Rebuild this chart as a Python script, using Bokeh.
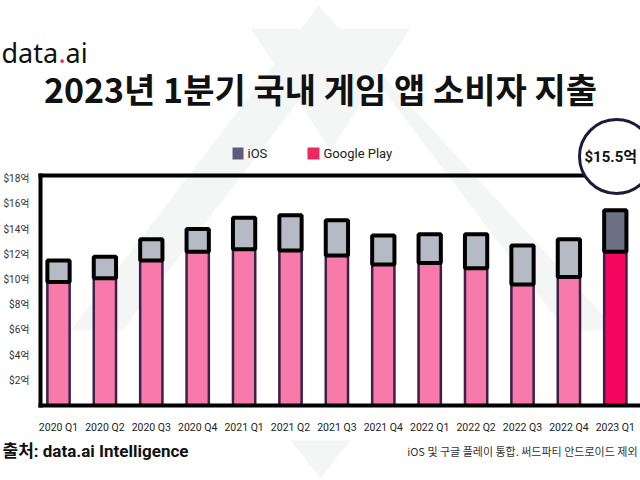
from bokeh.plotting import figure
from bokeh.models import (Label, BoxAnnotation, PolyAnnotation, FixedTicker,
                          Range1d, ColumnDataSource, LinearAxis)
from bokeh.embed import file_html
from bokeh.resources import INLINE

# ---- data (US$ 억) ----
quarters = ["2020 Q1", "2020 Q2", "2020 Q3", "2020 Q4", "2021 Q1", "2021 Q2",
            "2021 Q3", "2021 Q4", "2022 Q1", "2022 Q2", "2022 Q3", "2022 Q4", "2023 Q1"]
google_play = [9.8, 10.1, 11.5, 12.2, 12.4, 12.3, 11.9, 11.2, 11.3, 10.9, 9.6, 10.2, 12.2]
ios = [1.7, 1.7, 1.7, 1.8, 2.5, 2.8, 2.8, 2.3, 2.3, 2.7, 3.1, 3.0, 3.3]
y_ticks = [2, 4, 6, 8, 10, 12, 14, 16, 18]
y_tick_labels = ["$2억", "$4억", "$6억", "$8억", "$10억", "$12억", "$14억", "$16억", "$18억"]
y_top = 18.25
highlight = "2023 Q1"
callout = "$15.5억"
title = "2023년 1분기 국내 게임 앱 소비자 지출"
legend_names = ["iOS", "Google Play"]
source_text = "출처: data.ai Intelligence"
note_text = "iOS 및 구글 플레이 통합. 써드파티 안드로이드 제외"

# ---- styles ----
GP_C, GP_HI = "#F77AAB", "#F5065F"
IOS_C, IOS_HI = "#B6BAC4", "#6C7184"
LEG_IOS, LEG_GP = "#5F5B7B", "#EA2862"
LATIN = "Roboto, Noto Sans CJK KR"
CJK = "Noto Sans CJK KR"

W, H = 640, 480
# pixel geometry of the chart box
XPX, X0 = 46.4, 58.0      # px per category, x of first category
YPX, Y0 = 12.6, 405.0     # px per unit, y of zero
BOX_LEFT = 40.0

x_start = (0 - X0) / XPX
x_end = (W - X0) / XPX
y_start = (Y0 - H) / YPX
y_end = Y0 / YPX
x_left = (BOX_LEFT - X0) / XPX

xs = list(range(len(quarters)))
totals = [g + i for g, i in zip(google_play, ios)]
src = ColumnDataSource(dict(
    x=xs, gp=google_play, total=totals,
    gp_color=[GP_HI if q == highlight else GP_C for q in quarters],
    ios_color=[IOS_HI if q == highlight else IOS_C for q in quarters],
))

p = figure(width=W, height=H, output_backend="svg", toolbar_location=None,
           x_range=Range1d(x_start, x_end), y_range=Range1d(y_start, y_end),
           x_axis_location=None, y_axis_location=None,
           min_border=0)
p.outline_line_color = None
p.grid.visible = False
p.background_fill_color = "white"
p.border_fill_color = "white"


def sx(px):
    return px


def sy(py):
    return H - py


# faint watermark (background decoration)
for pts in [
    [(70, 330), (122, 330), (345, 40), (318, 5)],
    [(318, 5), (345, 40), (565, 330), (617, 330)],
    [(250, 28), (410, 28), (330, 150)],
    [(290, 440), (350, 440), (320, 478)],
]:
    p.add_layout(PolyAnnotation(xs=[sx(a) for a, b in pts], ys=[sy(b) for a, b in pts],
                                xs_units="screen", ys_units="screen",
                                fill_color="#F4F6F6", fill_alpha=1, line_color=None,
                                level="underlay"))

p.vbar(x="x", bottom=0, top="gp", width=0.48, fill_color="gp_color",
       line_color="#3B2047", line_width=2.5, source=src)
p.vbar(x="x", bottom="gp", top="total", width=0.48, fill_color="ios_color",
       line_color="black", line_width=4, source=src)

# axes (drawn at fixed data locations forming the chart box)
pad_x, pad_y = 2 / XPX, 2 / YPX
xa = LinearAxis(fixed_location=0, bounds=(x_left - pad_x, x_end),
                ticker=FixedTicker(ticks=xs),
                major_label_overrides={i: q for i, q in zip(xs, quarters)},
                axis_line_width=4, axis_line_color="black",
                major_tick_line_color=None, minor_tick_line_color=None,
                major_label_text_font=LATIN, major_label_text_font_size="10.5px",
                major_label_text_color="#222222", major_label_standoff=9)
p.add_layout(xa, "below")

ya = LinearAxis(fixed_location=x_left, bounds=(-pad_y, y_top + pad_y),
                ticker=FixedTicker(ticks=y_ticks),
                major_label_overrides={t: l for t, l in zip(y_ticks, y_tick_labels)},
                axis_line_width=4, axis_line_color="black",
                major_tick_line_color=None, minor_tick_line_color=None,
                major_label_text_font=LATIN, major_label_text_font_size="10px",
                major_label_text_color="#333333", major_label_standoff=5)
p.add_layout(ya, "left")

top_axis = LinearAxis(fixed_location=y_top, bounds=(x_left - pad_x, x_end),
                      ticker=FixedTicker(ticks=[]), axis_line_width=4,
                      axis_line_color="black", major_tick_line_color=None,
                      minor_tick_line_color=None, major_label_text_color=None)
p.add_layout(top_axis, "above")


def lab(text, px, py, size, font=LATIN, color="#111111", style="normal",
        align="left", baseline="middle"):
    p.add_layout(Label(x=sx(px), y=sy(py), x_units="screen", y_units="screen",
                       text=text, text_font=font, text_font_size=size,
                       text_color=color, text_font_style=style,
                       text_align=align, text_baseline=baseline))


# logo
lab("data", 1, 52, "27px", font="Noto Sans", baseline="alphabetic")
lab(".", 58, 52, "27px", font="Noto Sans", color="#F0245E", baseline="alphabetic")
lab("ai", 65, 52, "27px", font="Noto Sans", baseline="alphabetic")

# title
lab(title, 320, 88, "34px", font=CJK, style="bold", align="center")

# legend
for name, color, (l, r), tx in [(legend_names[0], LEG_IOS, (232, 243), 247),
                                 (legend_names[1], LEG_GP, (307, 319), 323)]:
    p.add_layout(BoxAnnotation(left=sx(l), right=sx(r), top=sy(147), bottom=sy(159),
                               left_units="screen", right_units="screen",
                               top_units="screen", bottom_units="screen",
                               fill_color=color, fill_alpha=1, line_color=None))
    lab(name, tx, 153, "13px", color="#222222")

# callout circle
cx, cy, r = 616, 156, 37
p.add_layout(BoxAnnotation(left=sx(cx - r), right=sx(cx + r), top=sy(cy - r), bottom=sy(cy + r),
                           left_units="screen", right_units="screen",
                           top_units="screen", bottom_units="screen",
                           border_radius=r, fill_color="white", fill_alpha=1,
                           line_color="#1F1A3D", line_alpha=1, line_width=3))
lab(callout, cx - r + 5, cy, "15px", style="bold", color="#111111")

# footer
lab(source_text, 2, 450, "17px", style="bold", color="#111111")
lab(note_text, 637, 450, "11px", font=CJK, align="right", color="#333333")

open("out.html", "w").write(file_html(p, INLINE))
